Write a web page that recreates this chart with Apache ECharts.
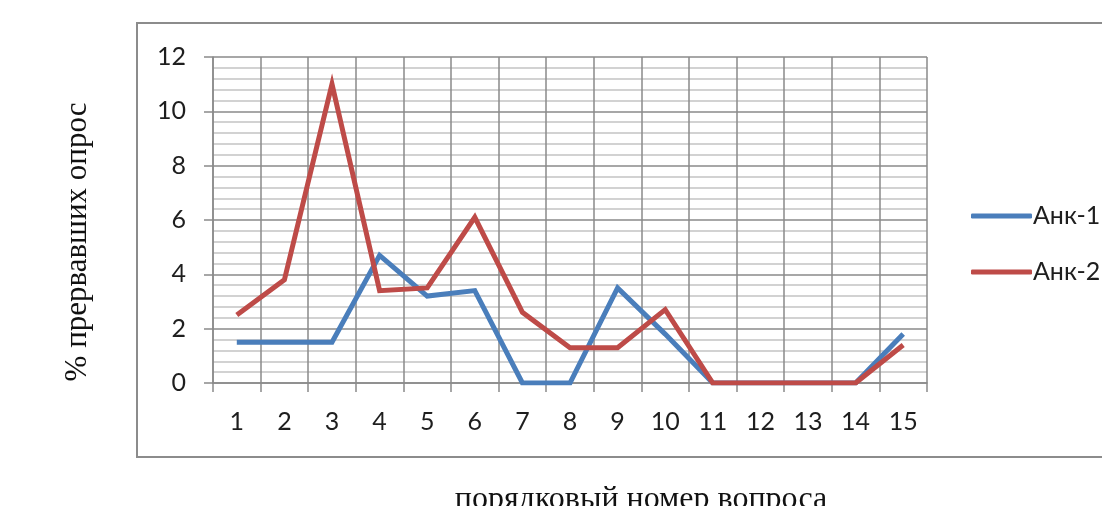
<!DOCTYPE html>
<html>
<head>
<meta charset="utf-8">
<script src="https://cdn.jsdelivr.net/npm/echarts@6/dist/echarts.min.js"></script>
<style>
  html, body { margin: 0; padding: 0; background: #fff; }
  #chart { width: 1102px; height: 506px; }
</style>
</head>
<body>
<div id="chart"></div>
<script>
// Question numbers along the horizontal axis
const questions = ['1','2','3','4','5','6','7','8','9','10','11','12','13','14','15'];
// Share of respondents who stopped at each question, per questionnaire
const ank1 = [1.5, 1.5, 1.5, 4.7, 3.2, 3.4, 0, 0, 3.5, 1.8, 0, 0, 0, 0, 1.8];
const ank2 = [2.5, 3.8, 11, 3.4, 3.5, 6.1, 2.6, 1.3, 1.3, 2.7, 0, 0, 0, 0, 1.4];
const seriesNames = ['Анк-1', 'Анк-2'];
const yAxisTitle = '% прервавших опрос';
const xAxisTitle = 'порядковый номер вопроса';

const labelFont = 'Lato, "Open Sans", sans-serif';
const serifFont = '"Liberation Serif", "DejaVu Serif", serif';
const colors = ['#4A7EBB', '#BE4B48'];

const chart = echarts.init(document.getElementById('chart'), null, { renderer: 'canvas' });

chart.setOption({
  animation: false,
  backgroundColor: '#ffffff',
  color: colors,
  grid: { left: 213, right: 175, top: 57, bottom: 123, containLabel: false },
  legend: {
    orient: 'vertical',
    left: 966,
    top: 198,
    itemWidth: 61,
    itemHeight: 5,
    itemGap: 30,
    icon: 'roundRect',
    textStyle: { fontFamily: labelFont, fontSize: 25, lineHeight: 26, color: '#1e1e1e', padding: [0, 0, 0, -4] },
    data: seriesNames
  },
  xAxis: {
    type: 'category',
    data: questions,
    boundaryGap: true,
    axisLine: { show: true, lineStyle: { color: '#8a8a8a', width: 1.5 } },
    axisTick: { show: true, length: 9, interval: 0, lineStyle: { color: '#8a8a8a', width: 1.5 } },
    axisLabel: { fontFamily: labelFont, fontSize: 25, color: '#1e1e1e', margin: 26, interval: 0 },
    splitLine: { show: true, interval: 0, lineStyle: { color: '#8a8a8a', width: 1.5 } }
  },
  yAxis: {
    type: 'value',
    min: 0,
    max: 12,
    interval: 2,
    axisLine: { show: true, lineStyle: { color: '#8a8a8a', width: 1.5 } },
    axisTick: { show: true, length: 9, lineStyle: { color: '#8a8a8a', width: 1.5 } },
    axisLabel: { fontFamily: labelFont, fontSize: 25, color: '#1e1e1e', margin: 27 },
    splitLine: { show: true, lineStyle: { color: '#8a8a8a', width: 1.5 } },
    minorTick: { show: false, splitNumber: 5 },
    minorSplitLine: { show: true, lineStyle: { color: '#c4c4c4', width: 1.5 } }
  },
  graphic: [
    {
      type: 'rect',
      silent: true,
      z: -1,
      shape: { x: 137, y: 23, width: 1000, height: 434 },
      style: { fill: 'none', stroke: '#8c8c8c', lineWidth: 2 }
    },
    {
      type: 'text',
      silent: true,
      x: 78,
      y: 242,
      rotation: Math.PI / 2,
      style: {
        text: yAxisTitle,
        font: '31px ' + serifFont,
        fill: '#111',
        align: 'center',
        verticalAlign: 'middle'
      }
    },
    {
      type: 'text',
      silent: true,
      x: 641,
      y: 500,
      style: {
        text: xAxisTitle,
        font: '32px ' + serifFont,
        fill: '#111',
        align: 'center',
        verticalAlign: 'middle'
      }
    }
  ],
  series: [
    {
      name: seriesNames[0],
      type: 'line',
      data: ank1,
      symbol: 'none',
      lineStyle: { width: 5, color: colors[0], join: 'miter' },
      z: 3
    },
    {
      name: seriesNames[1],
      type: 'line',
      data: ank2,
      symbol: 'none',
      lineStyle: { width: 5, color: colors[1], join: 'miter' },
      z: 4
    }
  ]
});
</script>
</body>
</html>
